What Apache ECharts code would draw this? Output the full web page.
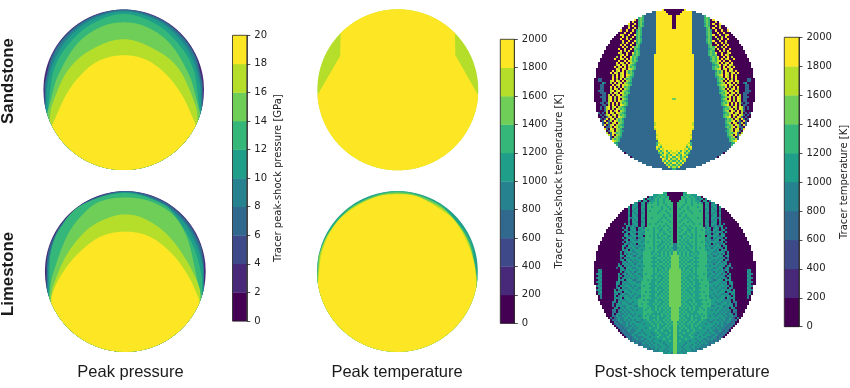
<!DOCTYPE html>
<html>
<head>
<meta charset="utf-8">
<style>html,body{margin:0;padding:0;background:#fff}#c{width:850px;height:388px}</style>
<script src="https://cdn.jsdelivr.net/npm/echarts@6/dist/echarts.min.js"></script>
</head>
<body>
<div id="c"></div>
<script>
// ---------- level edges and colours ----------
const pressureEdges = [0,2,4,6,8,10,12,14,16,18,20];
const temperatureEdges = [0,200,400,600,800,1000,1200,1400,1600,1800,2000];
const levelColors = ['#440154','#482878','#3e4989','#31688e','#26828e','#1f9e89','#35b779','#6ece58','#b5de2b','#fde725'];

// ---------- contour boundaries [x, y], disk units, for each level ----------
const sandPressure3 = [[-.985,.08],[-.9,.41],[-.71,.69],[-.42,.9],[0,1],[.42,.9],[.71,.69],[.9,.41],[.985,.08]];
const sandPressure4 = [[-.975,.05],[-.89,.39],[-.71,.665],[-.42,.885],[0,.99],[.42,.885],[.71,.665],[.89,.39],[.975,.05]];
const sandPressure5 = [[-.965,-.25],[-.96,0],[-.88,.33],[-.71,.62],[-.42,.86],[0,.975],[.42,.86],[.71,.62],[.88,.33],[.96,0],[.965,-.25]];
const sandPressure6 = [[-.945,-.29],[-.935,-.148],[-.877,.225],[-.71,.537],[-.42,.807],[0,.944],[.42,.807],[.71,.537],[.877,.225],[.935,-.148],[.945,-.29]];
const sandPressure7 = [[-.955,-.3],[-.92,-.17],[-.83,.15],[-.59,.56],[-.29,.78],[0,.84],[.29,.78],[.59,.56],[.83,.15],[.92,-.17],[.955,-.3]];
const sandPressure8 = [[-.925,-.38],[-.9,-.21],[-.71,.22],[-.42,.49],[0,.63],[.41,.49],[.7,.24],[.9,-.21],[.925,-.38]];
const sandPressure9 = [[-.9,-.46],[-.71,-.05],[-.5,.22],[-.29,.37],[0,.43],[.29,.37],[.54,.18],[.74,-.09],[.9,-.44]];

const limePressure3 = [[-.985,-.3],[-.98,.1],[-.9,.41],[-.71,.69],[-.42,.9],[0,1],[.42,.9],[.71,.69],[.9,.41],[.98,.1],[.985,-.3]];
const limePressure4 = [[-.975,-.3],[-.97,.06],[-.88,.4],[-.7,.67],[-.42,.88],[0,.99],[.42,.88],[.7,.67],[.88,.4],[.97,.06],[.975,-.3]];
const limePressure5 = [[-.965,-.3],[-.96,.04],[-.86,.37],[-.68,.66],[-.42,.86],[0,.985],[.42,.86],[.72,.62],[.87,.36],[.97,.02],[.975,-.3]];
const limePressure6 = [[-.945,-.3],[-.94,.18],[-.77,.6],[-.52,.84],[0,.975],[.5,.82],[.68,.6],[.86,.28],[.96,-.12],[.955,-.3]];
const limePressure7 = [[-.945,-.3],[-.92,-.1],[-.73,.43],[-.52,.72],[-.315,.87],[0,.92],[.315,.87],[.618,.68],[.784,.375],[.91,-.164],[.945,-.3]];
const limePressure8 = [[-.93,-.38],[-.9,-.19],[-.73,.205],[-.48,.515],[-.23,.66],[0,.71],[.23,.66],[.51,.47],[.76,.14],[.93,-.23],[.93,-.38]];
const limePressure9 = [[-.925,-.39],[-.92,-.31],[-.81,-.065],[-.605,.205],[-.315,.43],[0,.495],[.31,.43],[.6,.2],[.8,-.085],[.92,-.355],[.925,-.39]];

const sandPeakTemp9 = [[-1,-.07],[-.712,.43],[-.71,1],[.71,1],[.715,.43],[1,-.07]];

const limePeakTemp6 = [[-1,-.1],[-.98,.19],[-.8,.58],[-.5,.85],[0,1],[.5,.85],[.8,.55],[.93,.3],[1,-.1]];
const limePeakTemp7 = [[-1,-.1],[-.975,.2],[-.82,.53],[-.5,.84],[0,.985],[.5,.84],[.78,.55],[.92,.27],[.995,-.1]];
const limePeakTemp8 = [[-.995,-.12],[-.96,.22],[-.8,.55],[-.5,.83],[0,.97],[.5,.82],[.75,.59],[.9,.33],[.97,.02],[.985,-.1]];
const limePeakTemp9 = [[-.988,-.15],[-.95,.2],[-.8,.55],[-.59,.76],[-.26,.93],[0,.96],[.26,.93],[.6,.73],[.72,.62],[.86,.38],[.96,.08],[.983,-.15]];

// ---------- post-shock tracer cells: one row per line from the top, read from the
//            disk's centre outward. "d:n" is level d over n cells, a bare digit one cell. ----------
const sandPostShockRows = [
"0:5 9:2","0:4 9:5 3:2","0:3 9:6 3:5","0:1 9:8 3:6 6","0:1 9:8 3:6 676 0","0:1 9:8 3:6 676 0 9",
"0:1 9:8 3:6 67 600908","0:1 9:8 3:6 576 090090","0:1 9:8 3:6 67 6009080","0:1 9:8 3:7 67 0900900",
"9:9 3:7 675 0900900 9","9:9 3:7 676 0090090","9:9 3:7 67 6 9009008 9","9:9 3:7 576 0900809",
"9:9 3:7 676 0080900 9","9:9 3:7 67 6 9009009 0","9:9 3:7 576 0900908 0","9:9 3:8 67 0090090 9",
"9:9 3:8 676 9008090 0","9:9 3:8 567 0900900 9","9:9 3:8 676 0090809 0","9:9 3:8 67 6 9009008 9",
"9:10 3:7 6767 0090980","9:10 3:8 676 90090908","9:10 3:8 5768 09089009","9:10 3:8 676 8909009 0",
"9:10 3:9 678 0908909","9:10 3:9 567 9089098 0","9:10 3:9 6768 0909809","9:10 3:9 678 9089089 0",
"9:10 3:10 576 8090980 9","9:10 3:10 6768 098089 09","9:10 3:10 678 90980908","9:10 3:10 5678 098 0909",
"9:10 3:11 676 80908090 0:4 3:2","9:10 3:11 678 090890980 0:3 3:2","9:10 3:11 5678 09809 08 0:2 3 5 0",
"9:10 3:11 678 8909809 0 0:3 3:2","9:10 3:12 676 908090 9 0:3 3:2","9:10 3:12 678 0908908 0:3 3:2",
"9:10 3:12 5678 098098 0:3 3:3","9:10 3:12 676 8908908 0:2 3:3","9:10 3:13 678 0980908 0:1 3:2 0",
"9:10 3:13 567 8908098 0:1 3:3","7 9:9 3:13 678 0908098 0:1 3:2","9:10 3:13 5678 90809 8 0 3:2 0",
"9:10 3:13 676 8090908 3 0 3:2","9:10 3:13 678 9080908 0 3 3","9:10 3:14 5678 09809 83 0 3",
"9:10 3:14 676 8908098 3 0 3","9:10 3:14 678 0980908 3 0","9:10 3:14 5678 9089 0803 0 3",
"9:10 3:14 676 8098098 30 3","9:10 3:14 678 9080983 03","9:10 3:15 5768 098093 0 3",
"9:10 3:15 676 8908 30 93 0","9:9 8 3:15 678 09803 80 3","9:9 8 3:15 5678 0983 093",
"9:10 3:15 676 89083 30","9:9 8 3:16 678 08903 93","9:9 3:16 5678 0983 03","9:9 3:17 676 8930 83",
"9:8 8 3:17 678 09383","9:9 3:17 5678 0393","9:8 8 3:18 676 8303","9:8 3:19 678 9303",
"9:7 8 6 3:19 5678 03","9:6 8 9 6 3:19 676 3","9:6 6 8 9 3:19 5678","9:5 8 9 6 8 3:18 6 7",
"9 8 9 6 9 8 6 8 3:18","8 9 6 8 9 6 8 6 3:16","9 6 8 6 9 8 6 3:16","6 9 8 6 8 6 9 3:14",
"8 6 9 6 8 9 3:14","6 8 6 9 6 8 3:12","9 6 8 6 9 3:11","6 8 6 8 3:10","8 6 9 3:8","6 3:5"
];
const limePostShockRows = [
"0:4 5 6 6","0:4 6 5 6 6 5 5 5","0:3 6 5 6 6 5 6 5 5 4 5 0 5","0:3 6:2 5 6 6 5 6 5 4 5 5 0 5 5",
"0:2 6:3 5 6 6 5 6 5 5 4 0 5 5 0 5","0 6:4 5 6 6 5 6 6 5 6 4 0 5 5 0 4 5 0",
"0 666566656 6666 0 54 0 554 0 4","0 665665666 6566 0 55 0 455 0 5","0 656665666 6666 0 45 0 545 0 5",
"0 666566566 6656 0 55 0 554 0 4","0 665666656 6666 0 54 0 545 0 5","0 656656666 6666 0 55 0 455 0 4",
"0 666565666 6566 0 45 0 554 3 5","0 665666566 6666 0 55 0 545 0 5","0 656665656 6666 0 54 0 455 0 4 0",
"0 666566665 6656 0 55 0 554 0 5 0 4","0 665656566 6666 0 45 0 545 3 4 5 0",
"0 6566656565 6666 3 55 0 455 0 5 0 4","0 6656655665 6656 5 54 0 554 0 4 5 0","0 6566565665 6666 4 55 3 545 5 4 0 5",
"0 6665566565 6666 5 45 0 455 0 5 4 0","0 6556656565 6566 0 55 4 554 3 5 5 0","0 6656565565 6666 5 54 0 545 5 4 0 5",
"0 6565656665 6666 4 55 3 455 0 5 4 0","0 6656556565 6656 5 45 5 554 4 5 0 4","4 6565655665 6666 5 55 0 545 3 4 5 0",
"4 6656565565 6666 4 54 5 455 5 0 4 5","4 5656556565 6566 5 55 3 554 5 4 0 5 0","4 6565655665 6666 5 45 5 545 0 5 4 5 0",
"7 5656565565 56666 5 55 4 455 5 4 0 5","7 5656565656 56666 5 54 5 545 3 5 0 4 0",
"77 656565565 6 6666 4 55 3 455 5 0 4 5","77 565656655 5 6666 5 45 5 554 4 5 0 3","77 656565565 6 6666 5 55 4 545 5 0 5 4",
"77 565655655 5 6666 4 54 5 455 3 5 4 0","77 656566565 6 6666 5 55 3 554 5 4 5 0 4","77 565655655 5 6665 5 45 5 545 4 5 0 4 5",
"77 656556565 6 6666 5 55 4 455 5 0 4 5 0 3",
"777 56565565 6 6666 4 54 5 554 5 3 5 4 0 0:8 4 5","777 65656565 6 6666 5 55 3 545 5 4 0 5 0:9 5 4",
"777 56565655 6 6656 5 45 5 455 3 5 4 0 5 0:8 4 5 4","777 65655565 5 6666 4 55 4 554 5 4 0 5 4 0:8 5 4",
"777 56556565 6 6666 5 54 5 545 4 5 4 0 5 0:8 4 5 4","777 65655655 5 6566 5 55 3 455 5 0 5 4 5 0:8 5 4",
"777 565655655 6 6666 4 45 5 554 5 4 0 5 4 0:7 4 5 4","777 656565655 5 6666 5 55 5 545 4 5 0 4 5 0:7 5 4",
"777 565656555 6 6656 5 54 5 455 5 4 5 0 4 0:7 4 5 4","777 656555655 5 6666 4 55 4 554 4 5 0 5 4 0:7 5 4",
"777 565565655 6 6666 5 45 5 545 5 4 5 4 0 5 0:6 4 5 4","777 656556555 5 6566 5 55 5 455 5 0 4 5 4 5 0:6 5 4",
"777 565655655 6 6666 5 54 5 554 4 5 4 0 5 4 0:6 4 5","777 656565655 5 6656 4 55 4 545 5 4 5 4 0 5 0:6 4",
"777 565656555 6 6666 5 45 5 455 5 0 5 4 5 4 0:6 4",
"777 6565556555 5 6566 5 55 5 554 4 5 4 0 5 0:8","777 5655656555 6 6666 5 54 5 545 5 4 5 0 4 4 0:8",
"777 6565565655 5 6656 5 55 4 455 5 4 5 4 0 4 0:7","777 5656556555 6 6666 4 45 5 554 4 5 4 5 0 4 0:7",
"77 56565656 5 5 6566 5 55 5 545 5 4 5 4 0 5 4 0:7","77 65655656 5 5 6656 5 54 5 455 4 5 4 5 4 0 4 4 0:6",
"77 56565565 5 6 6666 5 55 5 554 5 4 5 4 4 0 4 3 0:5","77 65656555 5 5 6566 5 55 4 545 4 5 4 4 5 4 0 4 0:5",
"77 56556565 6 5 5656 5 45 5 455 5 4 5 4 4 5 3 4 0:4","77 65655565 5 5 5666 5 55 5 554 5 5 4 4 5 4 3 0 4 0:3",
"77 56565565 6556 5 54 5 545 4 5 4 5 4 4 5 4 3 4","7 565655656 5565 5 55 4 455 5 4 5 4 4 5 4 3 4",
"7 656556565 5655 5 45 5 554 5 4 5 4 4 4 3 4 3","7 565655565 6555 5 55 5 545 4 4 5 4 4 3 4 3",
"7 556565565 5565 4 55 5 454 5 4 4 4 3 4 3","7 565556556 5555 5 54 5 544 4 5 4 3 4 3",
"7 555655565 5455 5 45 4 554 4 4 3 4 3","7 565555655 4555 4 55 5 445 4 3 4 3",
"7 556555565 5545 5 54 4 454 3 4 3","7 555565555 4555 4 45 4 544 3 4",
"7 565555455 5454 5 44 4 434 3","7 555545555 4545 4 54 3 4 4 3",
"7 555455545 5454 4 44 3 4 3","7 554555455 4544 4 43",
"7 555455545 4434","7 554545544 4","7 45545"
];

// ---------- layout ----------
const diskPanels = [
  {cx:123.7, cy:89.8,  r:80.3, base:1, levels:[[3,sandPressure3],[4,sandPressure4],[5,sandPressure5],[6,sandPressure6],[7,sandPressure7],[8,sandPressure8],[9,sandPressure9]]},
  {cx:125.3, cy:271.5, r:80.4, base:1, levels:[[3,limePressure3],[4,limePressure4],[5,limePressure5],[6,limePressure6],[7,limePressure7],[8,limePressure8],[9,limePressure9]]},
  {cx:397.8, cy:89.8,  r:80.5, base:8, sharp:true, levels:[[9,sandPeakTemp9]]},
  {cx:397.4, cy:271.5, r:80.4, base:5, levels:[[6,limePeakTemp6],[7,limePeakTemp7],[8,limePeakTemp8],[9,limePeakTemp9]]},
  {cx:674.3, cy:89.8,  r:80.4, rows:sandPostShockRows},
  {cx:674.8, cy:273,   r:80.7, rows:limePostShockRows}
];
const colorbars = [
  {left:232.5, right:246.8, top:35.3, bottom:321, edges:pressureEdges, step:2, name:'Tracer peak-shock pressure [GPa]', gap:27},
  {left:500.3, right:514.3, top:39.3, bottom:323.3, edges:temperatureEdges, step:200, name:'Tracer peak-shock temperature [K]', gap:40},
  {left:784.3, right:799, top:37.3, bottom:326.7, edges:temperatureEdges, step:200, name:'Tracer temperature [K]', gap:40}
];

// ---------- build option ----------
const grid = [], xAxis = [], yAxis = [], series = [];

function expandRow(text) {
  let out = '';
  text.split(' ').forEach(tok => {
    if (tok.includes(':')) { const [d, n] = tok.split(':'); out += d.repeat(+n); }
    else out += tok;
  });
  return out;
}
function boundaryAt(pts, x, sharp) {
  const n = pts.length;
  for (let i = 0; i < n - 1; i++) {
    const a = pts[i], b = pts[i + 1];
    if (x >= a[0] && x <= b[0]) {
      const h = b[0] - a[0];
      if (h === 0) return Math.max(a[1], b[1]);
      const t = (x - a[0]) / h;
      if (sharp) return a[1] + (b[1] - a[1]) * t;
      const p = pts[Math.max(0, i - 1)], q = pts[Math.min(n - 1, i + 2)];
      const m0 = (b[1] - p[1]) / (b[0] - p[0]), m1 = (q[1] - a[1]) / (q[0] - a[0]);
      const t2 = t * t, t3 = t2 * t;
      return (2*t3 - 3*t2 + 1) * a[1] + (t3 - 2*t2 + t) * h * m0 + (-2*t3 + 3*t2) * b[1] + (t3 - t2) * h * m1;
    }
  }
  return -2;
}
function clippedOutline(pts, sharp) {
  const top = [], bottom = [];
  const x0 = pts[0][0], x1 = pts[pts.length - 1][0];
  const n = 400;
  for (let k = 0; k <= n; k++) {
    const x = Math.max(-1, Math.min(1, x0 + (x1 - x0) * k / n));
    const chord = Math.sqrt(Math.max(0, 1 - x * x));
    const t = Math.min(boundaryAt(pts, x, sharp), chord);
    if (t < -chord) continue;
    top.push([x, t]);
    bottom.unshift([x, -chord]);
  }
  return top.concat(bottom);
}

diskPanels.forEach((p, i) => {
  grid.push({left:p.cx - p.r, top:p.cy - p.r, width:2 * p.r, height:2 * p.r, containLabel:false});
  xAxis.push({type:'value', gridIndex:i, min:-1, max:1, show:false});
  yAxis.push({type:'value', gridIndex:i, min:-1, max:1, show:false});
  if (p.rows) {
    const cells = [];
    const nr = p.rows.length, half = 40;
    p.rows.forEach((text, ri) => {
      const row = expandRow(text);
      const y = 1 - (ri + .5) * 2 / nr;
      for (let c = 0; c < half; c++) {
        const x = (c + .5) / half;
        if (x * x + y * y > 1) continue;
        const lv = c < row.length ? +row[c] : 0;
        cells.push([x, y, lv], [-x, y, lv]);
      }
    });
    const w = .5 / half, h = 2 / nr;
    series.push({
      type:'custom', xAxisIndex:i, yAxisIndex:i, silent:true, animation:false, clip:false,
      encode:{x:0, y:1}, data:cells,
      renderItem(params, api) {
        const a = api.coord([api.value(0) - w, api.value(1) + h / 2]);
        const b = api.coord([api.value(0) + w, api.value(1) - h / 2]);
        const x = Math.round(a[0]), y = Math.round(a[1]);
        return {type:'rect', shape:{x, y, width:Math.round(b[0]) - x, height:Math.round(b[1]) - y},
                style:{fill:levelColors[api.value(2)]}};
      }
    });
  } else {
    const layers = [[p.base, [[-1, 1], [1, 1]]]].concat(p.levels);
    series.push({
      type:'custom', xAxisIndex:i, yAxisIndex:i, silent:true, animation:false, clip:false,
      data:layers.map((l, k) => [0, 0, k]),
      encode:{x:0, y:1},
      renderItem(params, api) {
        const l = layers[params.dataIndex];
        return {type:'polygon', shape:{points:clippedOutline(l[1], p.sharp || l[1].length < 3).map(q => api.coord(q))},
                style:{fill:levelColors[l[0]]}};
      }
    });
  }
});

colorbars.forEach((b, j) => {
  const i = diskPanels.length + j;
  grid.push({left:b.left, top:b.top, width:b.right - b.left, height:b.bottom - b.top,
             show:true, borderColor:'#222', borderWidth:0.8, backgroundColor:'transparent', z:5});
  xAxis.push({type:'value', gridIndex:i, min:0, max:1, show:false});
  yAxis.push({type:'value', gridIndex:i, position:'right', min:0, max:b.edges[b.edges.length - 1], interval:b.step,
    splitLine:{show:false}, axisLine:{show:true, onZero:false, lineStyle:{color:'#222', width:0.8}},
    axisTick:{show:true, length:3.5, lineStyle:{color:'#222', width:0.8}},
    axisLabel:{color:'#222', fontFamily:'DejaVu Sans', fontSize:10, margin:7.5, formatter:v => String(v)},
    name:b.name, nameLocation:'middle', nameRotate:90, nameGap:b.gap,
    nameTextStyle:{color:'#222', fontFamily:'DejaVu Sans', fontSize:10}});
  series.push({
    type:'custom', xAxisIndex:i, yAxisIndex:i, silent:true, animation:false,
    encode:{y:[0, 1]},
    data:b.edges.slice(0, -1).map((lo, k) => [lo, b.edges[k + 1], k]),
    renderItem(params, api) {
      const a = api.coord([0, api.value(1)]);
      const c = api.coord([1, api.value(0)]);
      return {type:'rect', shape:{x:a[0], y:a[1], width:c[0] - a[0], height:c[1] - a[1] + .3},
              style:{fill:levelColors[api.value(2)]}};
    }
  });
});

function caption(text, x, y, opts) {
  return Object.assign({type:'text', x, y, silent:true, style:{
    text, fill:'#1a1a1a', align:'center', verticalAlign:'middle',
    font:(opts && opts.bold ? 'bold ' : '') + (opts && opts.size || 16.5) + 'px "Liberation Sans"'
  }}, opts && opts.rotation ? {rotation:opts.rotation} : {});
}

const chart = echarts.init(document.getElementById('c'), null, {renderer:'canvas'});
chart.setOption({
  animation:false,
  backgroundColor:'#fff',
  grid, xAxis, yAxis, series,
  graphic:[
    caption('Sandstone', 8.5, 81, {bold:true, size:16.8, rotation:Math.PI / 2}),
    caption('Limestone', 8.5, 274, {bold:true, size:16.8, rotation:Math.PI / 2}),
    caption('Peak pressure', 130.5, 372),
    caption('Peak temperature', 397, 372),
    caption('Post-shock temperature', 682, 372)
  ]
});
</script>
</body>
</html>
